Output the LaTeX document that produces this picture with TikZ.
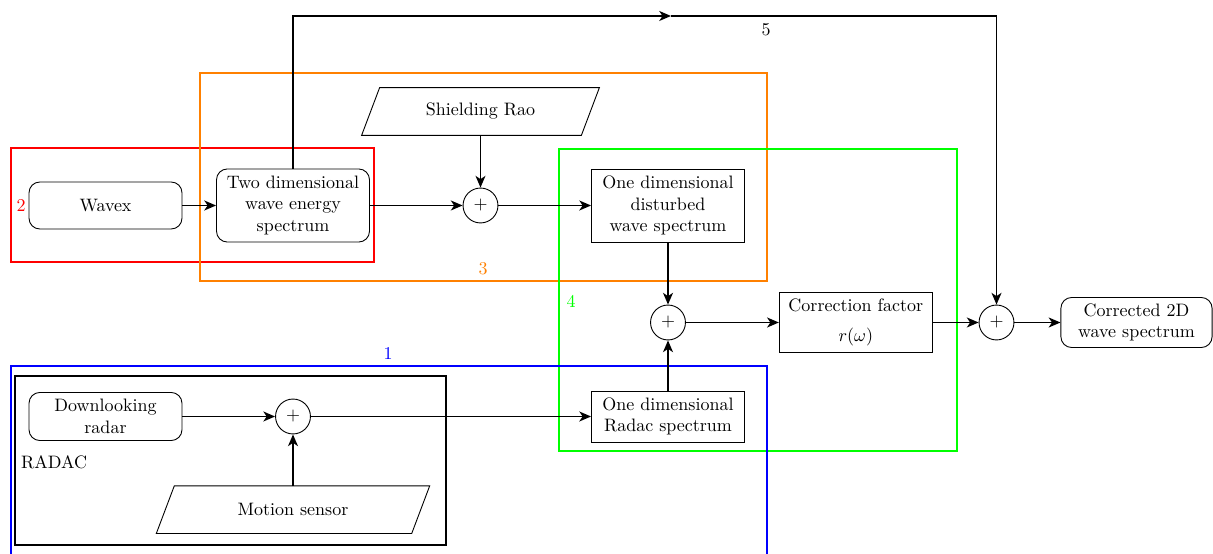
\documentclass[tikz,border=0pt]{standalone}
\usetikzlibrary{arrows.meta,calc}
\begin{document}
\begin{tikzpicture}[x=0.5556pt,y=-0.5556pt,
  conn/.style={line width=1pt,-{Stealth[length=6.5pt,width=5.5pt,inset=1.8pt]}},
  rbox/.style={draw,line width=0.5pt,rounded corners=6pt,align=center,minimum width=85pt,inner sep=2pt},
  sbox/.style={draw,line width=0.5pt,align=center,minimum width=85pt,inner sep=2pt},
  sumnode/.style={draw,line width=0.5pt,circle,minimum size=19.4pt,inner sep=0pt},
  pgram/.style={align=center,minimum height=26.1pt,inner sep=2pt},
  pline/.style={line width=0.5pt},
  group/.style={line width=0.9pt}]
\clip (0,0) rectangle (1213,554);
% groups
\draw[group,red] (11,148) rectangle (374,262);
\draw[group,orange] (200,73) rectangle (767,281);
\draw[group,green] (559,149) rectangle (957,451);
\draw[group,blue] (11,366) rectangle (767,620);
\draw[group,black] (15,376) rectangle (446,545);
\node[red] (l2) at (21,206) {2};
\node[orange] (l3) at (483,269) {3};
\node[green] (l4) at (571,301) {4};
\node[blue] (l1) at (388,354) {1};
\node (l5) at (766,30) {5};
\node (lradac) at (54,462) {RADAC};
% nodes
\node[rbox,minimum height=26.1pt] (wavex) at (105.5,205.5) {Wavex};
\node[rbox,minimum height=40.6pt] (twod) at (293,205.5) {Two dimensional\\wave energy\\spectrum};
\node[pgram,minimum width=111.7pt] (sr) at (480.5,111.5) {Shielding Rao};
\draw[pline] (sr.north west) -- ([xshift=10pt]sr.north east) -- (sr.south east) -- ([xshift=-10pt]sr.south west) -- cycle;
\node[sumnode] (p1) at (480.5,205.5) {$+$};
\node[sbox,minimum height=40.6pt] (oned) at (668,205.5) {One dimensional\\disturbed\\wave spectrum};
\node[sumnode] (p2) at (668,322.5) {$+$};
\node[sbox,minimum height=33.1pt] (corr) at (855.8,322.5) {Correction factor\\[5pt]$r(\omega)$};
\node[sumnode] (p3) at (996.5,322.5) {$+$};
\node[rbox,minimum width=84pt,minimum height=27.8pt] (out) at (1136.5,322.5) {Corrected 2D\\wave spectrum};
\node[sbox,minimum height=28.3pt] (radac) at (668,416.5) {One dimensional\\Radac spectrum};
\node[rbox,minimum height=26.7pt] (down) at (105.5,416.5) {Downlooking\\radar};
\node[sumnode] (p4) at (293,416.5) {$+$};
\node[pgram,minimum width=131.5pt] (ms) at (293,509.7) {Motion sensor};
\draw[pline] (ms.north west) -- ([xshift=10pt]ms.north east) -- (ms.south east) -- ([xshift=-10pt]ms.south west) -- cycle;
\coordinate (c5) at (671,16);
% connectors
\draw[conn] (wavex) -- (twod);
\draw[conn] (twod) -- (p1);
\draw[conn] (sr.south) -- (p1);
\draw[conn] (p1) -- (oned);
\draw[conn] (oned) -- (p2);
\draw[conn] (radac) -- (p2);
\draw[conn] (p2) -- (corr);
\draw[conn] (corr) -- (p3);
\draw[conn] (p3) -- (out);
\draw[conn] (down) -- (p4);
\draw[conn] (ms.north) -- (p4);
\draw[conn] (p4) -- (radac);
\draw[conn] (twod.north) |- (c5);
\draw[conn] (c5) -| (p3.north);
\end{tikzpicture}
\end{document}
